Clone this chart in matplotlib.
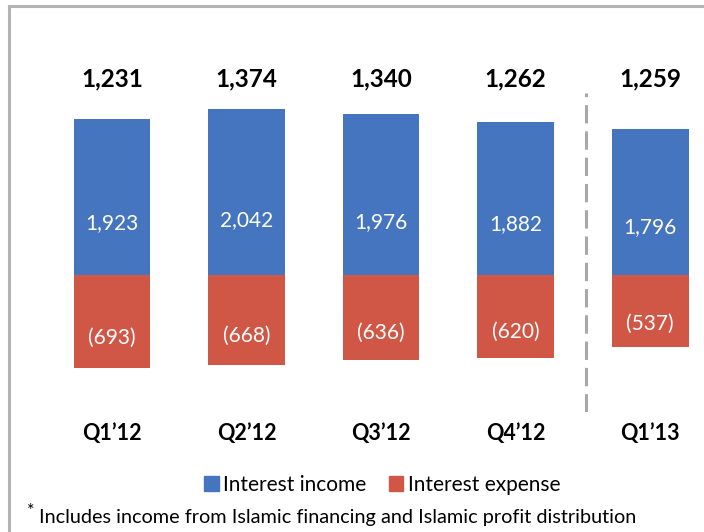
"""
Interest income vs interest expense by quarter.
"""

import matplotlib.pyplot as plt
from matplotlib.lines import Line2D
from matplotlib.patches import Patch

plt.rcParams['font.family'] = ['Lato', 'DejaVu Sans']

quarters = ['Q1\u201912', 'Q2\u201912', 'Q3\u201912', 'Q4\u201912', 'Q1\u201913']
income = [1923, 2042, 1976, 1882, 1796]
expense = [693, 668, 636, 620, 537]
net = [1231, 1374, 1340, 1262, 1259]

blue = '#4575bf'
red = '#d05745'
grey = '#a8a8a8'

fig = plt.figure(figsize=(7.04, 5.32), dpi=100)

# bar area spans pixel rows 60..412, baseline at row 275
ax = fig.add_axes([0, 120 / 532, 1, 352 / 532])
ax2 = ax.twinx()

x = list(range(len(quarters)))
ax.bar(x, income, width=0.57, color=blue)
ax2.bar(x, [-v for v in expense], width=0.57, color=red)

ax.set_xlim(-0.833, 4.40)
ax.set_ylim(-1685, 2645)
ax2.set_ylim(-1022, 1605)

for i in x:
    ax.text(i, income[i] * 0.33, f'{income[i]:,}', color='white',
            fontsize=15, ha='center', va='center')
    ax2.text(i, -expense[i] * 0.68, f'({expense[i]})', color='white',
             fontsize=15, ha='center', va='center')
    ax.text(i, 0.946, f'{net[i]:,}', transform=ax.get_xaxis_transform(),
            fontsize=17.5, fontweight='bold', ha='center', va='center')
    ax.text(i, -0.06, quarters[i], transform=ax.get_xaxis_transform(),
            fontsize=15.5, fontweight='bold', ha='center', va='center')

# separator between 2012 and 2013
ax.axvline(3.52, ymin=0, ymax=0.906, color=grey, lw=2.2, dashes=(6, 2.6))

for a in (ax, ax2):
    a.axis('off')

handles = [Patch(color=blue, label='Interest income'),
           Patch(color=red, label='Interest expense')]
fig.legend(handles=handles, loc='center', bbox_to_anchor=(382 / 704, 47 / 532),
           ncol=2, frameon=False, fontsize=15, handlelength=0.7,
           handleheight=0.7, handletextpad=0.2, columnspacing=1.1)

fig.text(27 / 704, 21 / 532, '*', fontsize=13, va='center')
fig.text(39 / 704, 15 / 532,
         'Includes income from Islamic financing and Islamic profit distribution',
         fontsize=14.3, va='center')

# slide frame
fig.add_artist(Line2D([9 / 704, 9 / 704], [0, 526 / 532], color='#b3b3b3',
                      lw=2.2, transform=fig.transFigure))
fig.add_artist(Line2D([9 / 704, 1], [526 / 532, 526 / 532], color='#b3b3b3',
                      lw=2.2, transform=fig.transFigure))

fig.savefig('out.png', dpi=100)
